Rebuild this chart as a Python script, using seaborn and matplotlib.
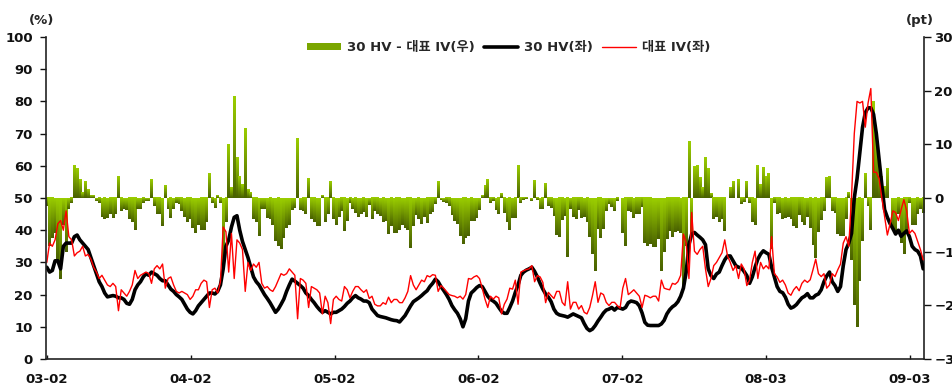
import matplotlib
matplotlib.use('Agg')
import matplotlib.pyplot as plt
import numpy as np
import seaborn as sns
from matplotlib.colors import LinearSegmentedColormap
from matplotlib.lines import Line2D
from matplotlib.patches import Patch

# weekly readings, Feb 2003 - Apr 2009 (left axis, %)
hv_30 = [
    28.5, 27, 27.5, 30.5, 30.5, 28, 35, 36, 36, 36, 38, 38.5, 37, 36, 35, 34, 31.5, 29, 26.5, 24,
    22.5, 20.5, 19.3, 19.5, 19.7, 19.5, 19, 19, 18.5, 17.3, 17, 18.5, 21.5, 23, 24, 25.5, 26.5, 26, 27, 26.5,
    26, 25, 24.3, 24.3, 23, 21.7, 21, 20, 19.3, 18.5, 17, 15.5, 14.5, 14, 15, 16.5, 17.5, 18.5, 19.5, 20.5,
    20.5, 20.2, 21, 23, 28, 35, 37, 41, 44, 44.5, 40, 36.5, 34, 31.5, 28.5, 25.5, 24, 23, 21.5, 20,
    18.8, 17.5, 16, 14.5, 15.5, 17, 18.6, 21, 23, 24.8, 24.2, 23.5, 22.8, 22, 20.5, 19.7, 18.5, 17.5, 16.3, 15.3,
    14.5, 15, 14.5, 14, 14.5, 14.5, 15, 15.5, 16.3, 17.3, 18, 19, 19.7, 19, 18.6, 18, 18, 17.5, 15.5, 14.5,
    13.5, 13.2, 13, 12.8, 12.5, 12.2, 12, 11.9, 11.5, 12.5, 13.5, 15, 16.5, 17.8, 18.4, 19, 19.7, 20.5, 21.2, 22.5,
    23.5, 24.8, 24, 22.5, 21.3, 20, 18.5, 16.6, 15.3, 14.2, 12.5, 10, 12.5, 18, 20.5, 21.3, 22.2, 22.8, 22.5, 21,
    19.5, 18.5, 18, 17.3, 16, 14.8, 14.2, 14.2, 16, 18, 20.7, 23, 26, 27, 27.6, 28, 28.5, 27.2, 25.5, 23.5,
    21.7, 20.2, 19.2, 17.8, 15.5, 14.2, 13.7, 13.5, 13.3, 13, 13.5, 14, 13.6, 13.2, 12.8, 11, 9.5, 8.8, 9.3, 10.4,
    11.8, 13, 14.3, 15.2, 15.5, 16, 15.2, 16, 15.8, 15.5, 16, 17.5, 18, 17.8, 17.5, 16.5, 14.3, 11.4, 10.5, 10.4,
    10.4, 10.4, 10.4, 10.9, 12, 14, 15.3, 16.2, 16.8, 17.8, 19.5, 22, 27, 35.5, 38.8, 39.3, 38.5, 37.8, 37, 35.5,
    28, 25.9, 25, 26.4, 27, 29, 30.8, 32, 32, 30.5, 29, 28.5, 28.3, 27.2, 25.9, 23.5, 25.5, 28.5, 31, 32.6,
    33.6, 33, 32.5, 28.5, 25.5, 22.5, 21, 20.6, 19.2, 17, 15.8, 16.2, 16.9, 18, 19, 19.5, 20.3, 19, 19, 19.8,
    20.2, 21.5, 24, 25.8, 27, 24, 22.8, 21, 22.5, 29, 34, 36, 39, 50, 56, 64, 72, 76.5, 78, 78,
    76, 70, 62, 54, 46.4, 44, 42, 40.5, 38.8, 40, 38.1, 39, 39.8, 38, 35, 34, 33.5, 32, 28,
]
iv_main = [
    30, 36, 35, 37, 42, 43, 40, 46, 38, 37, 32, 33, 33.5, 35, 32, 32.5, 31, 28.5, 27, 25,
    26, 24.5, 23, 22.5, 23.5, 22.5, 15, 21.5, 20.5, 19.5, 21, 23, 27.5, 25, 26, 26.5, 27, 26.5, 23.5, 28,
    29, 28, 29.5, 22, 25, 25.5, 23, 21, 20.5, 21, 20.5, 20, 18.5, 19.5, 21.5, 21.5, 23.5, 24.5, 24, 16,
    21.5, 22, 20.5, 24, 41, 39.5, 27, 39, 25, 37, 36, 34, 21, 30, 27.5, 29.5, 28.5, 30, 23.5, 22,
    22.5, 21.5, 21, 22.5, 24.5, 26.5, 26, 26.5, 28, 27, 26, 12.5, 25, 24.5, 23.5, 16, 22.5, 22, 21.5, 20.5,
    14, 19.5, 17.5, 11, 18.5, 19.5, 18.5, 18, 22.5, 21.5, 19, 21, 22.5, 22.5, 21.5, 20.7, 21.5, 18.8, 19.5, 17,
    16.5, 16.5, 17.5, 17, 19.2, 17.5, 18.5, 18.5, 17.5, 17.5, 19, 21, 25.9, 23, 21.5, 23, 24.5, 24, 25.9, 25.5,
    26.2, 26, 21, 22.8, 22, 21, 20, 19.7, 19.5, 19, 19.5, 18.6, 20, 25, 24.8, 25.5, 25.9, 25, 22, 18.6,
    16, 19.5, 18.6, 19.5, 19, 14, 17, 18.6, 22, 21.7, 24.5, 17, 27, 27.4, 27.8, 28, 29, 24, 25.9, 25.5,
    23.8, 17.5, 20.7, 19.7, 18.8, 21, 21, 17.6, 16.6, 24, 15.5, 17.6, 17.6, 15.5, 16.6, 14.5, 14, 16, 19.7, 24,
    17.6, 20.5, 20, 17.6, 16.6, 17.6, 17.6, 16.6, 15.8, 22, 25, 20, 20.7, 21.5, 20.5, 19.5, 16, 19.8, 19.5, 19,
    19.5, 19.5, 18, 24.5, 22, 21.7, 21.5, 23.5, 23.2, 24, 26, 38.8, 36, 25, 45.5, 33.5, 32.5, 34, 35, 28,
    22.5, 25, 29, 30, 31.5, 33, 37, 32, 30, 27.5, 29, 25, 29.5, 28, 22.8, 24.5, 30, 33.5, 25, 30,
    28, 29, 28, 38, 26.5, 25.5, 23.8, 24.5, 23, 20.5, 19.8, 21.5, 22.5, 21.2, 23.5, 24.5, 23.8, 24.6, 27.7, 31,
    26.5, 25.6, 26.5, 22, 23, 26.5, 25.6, 27.7, 29.5, 36, 38, 35, 50.5, 70, 80, 79.5, 80, 72, 79.5, 84,
    58, 58, 56, 50, 44.3, 38.5, 42, 46, 45.5, 43, 46.4, 49.5, 46, 39, 40, 39, 36.5, 34, 30.8,
]
x_labels = ['03-02', '04-02', '05-02', '06-02', '07-02', '08-03', '09-03']
legend_labels = ['30 HV - 대표 IV(우)', '30 HV(좌)', '대표 IV(좌)']

sns.set_theme(style='white')
# DejaVu for latin/digits, Noto CJK KR for the hangul
plt.rcParams['font.family'] = ['DejaVu Sans', 'Noto Sans CJK KR']
plt.rcParams['font.weight'] = 'bold'

weeks = np.arange(len(hv_30))
# spread in points = HV - IV (right axis)
gap = np.array(hv_30) - np.array(iv_main)

fig = plt.figure(figsize=(9.52, 3.85), dpi=100)
ax = fig.add_axes([0.0483, 0.0675, 0.9223, 0.8364])
ax2 = ax.twinx()

# green bars with a vertical gradient (bright on top, olive at the bottom)
green = LinearSegmentedColormap.from_list('grn', ['#4a6200', '#9acd00'])
grad = np.linspace(0, 1, 32).reshape(-1, 1)
bars = ax2.bar(weeks, gap, width=1.0, color='none', linewidth=0)
for b in bars:
    x0, w = b.get_x(), b.get_width()
    y0, h = b.get_y(), b.get_height()
    ax2.imshow(grad, extent=[x0, x0 + w, min(y0, y0 + h), max(y0, y0 + h)],
               origin='lower', aspect='auto', cmap=green, interpolation='bilinear')

# lines on the left axis
sns.lineplot(x=weeks, y=hv_30, ax=ax, color='black', linewidth=2.6)
sns.lineplot(x=weeks, y=iv_main, ax=ax, color='#ff0000', linewidth=1.0)

ax.set_zorder(ax2.get_zorder() + 1)
ax.patch.set_visible(False)

ax.set_xlim(-0.3, 318.3)
ax2.set_xlim(-0.3, 318.3)
ax.set_ylim(0, 100)
ax2.set_ylim(-30, 30)
ax.set_yticks(np.arange(0, 101, 10))
ax2.set_yticks(np.arange(-30, 31, 10))
ax.set_xticks(np.arange(len(x_labels)) * 52.2)
ax.set_xticklabels(x_labels)

for a in (ax, ax2):
    a.spines['top'].set_visible(False)
    for s in a.spines.values():
        s.set_color('#222222')
        s.set_linewidth(1.2)
ax.spines['right'].set_visible(False)
ax2.spines['left'].set_visible(False)
ax2.spines['bottom'].set_visible(False)

ax.tick_params(axis='y', left=True, direction='out', length=4, width=1, pad=5.5,
               labelsize=9.5, colors='#111111')
ax.tick_params(axis='x', bottom=True, direction='in', length=3, width=1, pad=10,
               labelsize=9.5, colors='#111111')
ax2.tick_params(axis='y', right=True, direction='out', length=5, width=1, pad=2.5,
                labelsize=9.5, colors='#111111')
for lab in ax.get_xticklabels() + ax.get_yticklabels() + ax2.get_yticklabels():
    lab.set_fontweight('bold')
ax.set_xlabel('')
ax.set_ylabel('')

fig.text(0.044, 0.948, '(%)', ha='center', va='center', fontsize=9.5, fontweight='bold')
fig.text(0.966, 0.948, '(pt)', ha='center', va='center', fontsize=9.5, fontweight='bold')

handles = [Patch(facecolor='#7aa600', edgecolor='none'),
           Line2D([], [], color='black', linewidth=2.6),
           Line2D([], [], color='#ff0000', linewidth=1.0)]
ax.legend(handles, legend_labels, loc='center', bbox_to_anchor=(0.527, 0.967), ncol=3,
          frameon=False, handlelength=2.6, handleheight=0.45,
          handletextpad=0.45, columnspacing=0.7, prop={'weight': 'bold', 'size': 9.5})

fig.savefig('out.png', dpi=100, facecolor='white')
